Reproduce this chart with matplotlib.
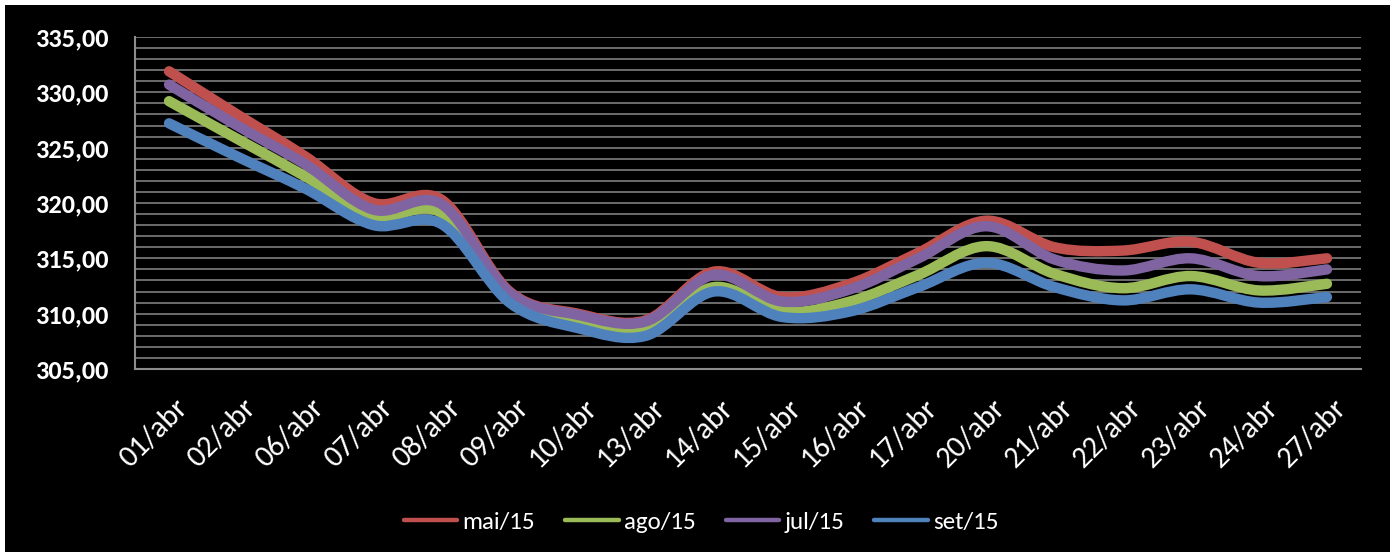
import matplotlib
matplotlib.use("Agg")
import matplotlib.pyplot as plt
import matplotlib.transforms as mtransforms
import numpy as np
from matplotlib.path import Path
from matplotlib.patches import PathPatch, Rectangle
from matplotlib.lines import Line2D
from matplotlib.ticker import MultipleLocator

plt.rcParams['font.family'] = ['Carlito', 'DejaVu Sans']

dias = ["01/abr", "02/abr", "06/abr", "07/abr", "08/abr", "09/abr", "10/abr",
        "13/abr", "14/abr", "15/abr", "16/abr", "17/abr", "20/abr", "21/abr",
        "22/abr", "23/abr", "24/abr", "27/abr"]

mai15 = [331.9, 328.0, 324.2, 320.0, 320.3, 312.0, 310.0, 309.4, 313.8,
         311.5, 312.7, 315.5, 318.4, 316.0, 315.7, 316.5, 314.6, 315.0]
ago15 = [329.2, 325.8, 322.4, 318.8, 319.1, 311.3, 309.2, 308.6, 312.4,
         310.2, 311.1, 313.5, 316.1, 313.6, 312.3, 313.4, 312.1, 312.7]
jul15 = [330.7, 327.0, 323.5, 319.4, 319.9, 311.9, 309.9, 309.3, 313.5,
         311.1, 312.2, 315.0, 317.9, 314.9, 313.9, 315.0, 313.4, 314.0]
set15 = [327.2, 324.2, 321.3, 318.0, 318.1, 311.0, 308.7, 308.0, 312.0,
         309.7, 310.2, 312.4, 314.6, 312.4, 311.2, 312.2, 311.0, 311.5]

series = [("mai/15", mai15, "#C0504D"),
          ("ago/15", ago15, "#9BBB59"),
          ("jul/15", jul15, "#8064A2"),
          ("set/15", set15, "#4F81BD")]

eixo_y = [305, 310, 315, 320, 325, 330, 335]


def smooth_path(x, y):
    # catmull-rom style bezier through every point (like excel's smoothed line)
    pts = np.column_stack([x, y]).astype(float)
    ext = np.vstack([pts[0], pts, pts[-1]])
    verts = [pts[0]]
    codes = [Path.MOVETO]
    for i in range(len(pts) - 1):
        p0, p1, p2, p3 = ext[i], ext[i + 1], ext[i + 2], ext[i + 3]
        c1 = p1 + (p2 - p0) / 6.0
        c2 = p2 - (p3 - p1) / 6.0
        verts += [c1, c2, p2]
        codes += [Path.CURVE4] * 3
    return Path(verts, codes)


fig = plt.figure(figsize=(13.95, 5.57), dpi=100, facecolor="white")
fig.patches.append(Rectangle((5 / 1395, 5 / 557), 1385 / 1395, 547 / 557,
                             transform=fig.transFigure, facecolor="black",
                             edgecolor="none", zorder=-10))

ax = fig.add_axes([135 / 1395, 1 - 369 / 557, 1226 / 1395, 332 / 557])
ax.set_facecolor("black")

xs = np.arange(len(dias))
for nome, vals, cor in series:
    ax.add_patch(PathPatch(smooth_path(xs, vals), facecolor="none",
                           edgecolor=cor, lw=7.5, capstyle="round",
                           joinstyle="round", zorder=3))

ax.set_xlim(-0.5, len(dias) - 0.5)
ax.set_ylim(eixo_y[0], eixo_y[-1])
ax.set_yticks(eixo_y)
ax.set_yticklabels([f"{v:.2f}".replace(".", ",") for v in eixo_y],
                   fontweight="bold", color="white", fontsize=19)
ax.yaxis.set_minor_locator(MultipleLocator(1))
ax.grid(axis="y", which="both", color="#7f7f7f", lw=1.2)
ax.set_axisbelow(True)

ax.set_xticks(xs)
ax.set_xticklabels(dias, rotation=45, ha="right", va="top",
                   rotation_mode="anchor", color="white", fontsize=22)
ax.tick_params(axis="x", length=0, pad=18)
desloc = mtransforms.ScaledTranslation(4 / 72, 0, fig.dpi_scale_trans)
for lab in ax.get_xticklabels():
    lab.set_transform(lab.get_transform() + desloc)
ax.tick_params(axis="y", which="both", length=0, pad=19)

for lado in ["top", "right"]:
    ax.spines[lado].set_visible(False)
ax.spines["left"].set_color("#8c8c8c")
ax.spines["bottom"].set_color("#8c8c8c")
ax.spines["left"].set_linewidth(1.5)
ax.spines["bottom"].set_linewidth(1.5)

handles = [Line2D([0], [0], color=cor, lw=3.2, solid_capstyle="round")
           for _, _, cor in series]
leg = fig.legend(handles, [s[0] for s in series], loc="center",
                 bbox_to_anchor=(701 / 1395, 1 - 522 / 557), ncol=4,
                 frameon=False, fontsize=18, handlelength=2.15,
                 handletextpad=0.2, columnspacing=1.2)
for t in leg.get_texts():
    t.set_color("white")

fig.savefig("out.png", dpi=100, facecolor=fig.get_facecolor())
